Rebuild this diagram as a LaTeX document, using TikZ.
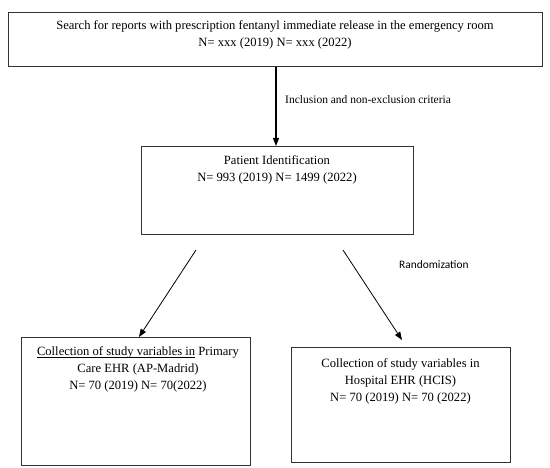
\documentclass[tikz,border=0pt]{standalone}
\usepackage{fontspec}
\setmainfont{Liberation Serif}
\newfontfamily\calib{Carlito}
\usetikzlibrary{arrows.meta}
\newcommand\myul[1]{\setbox0\hbox{#1}\rlap{\raisebox{-2.6pt}{\rule{\wd0}{0.6pt}}}\box0\relax}
\begin{document}
\begin{tikzpicture}[x=1pt,y=-1pt,
  box/.style={draw=black!80, line width=1pt, inner sep=0pt, anchor=north west},
  txt/.style={align=center, font=\fontsize{12.6}{17}\selectfont, inner sep=0pt, anchor=north},
  arr/.style={-{Triangle[length=8pt,width=6pt]}, line width=0.8pt}]
\useasboundingbox (0,0) rectangle (550,468);
\fill[white] (0,0) rectangle (550,468);
% boxes
\node[box, minimum width=534pt, minimum height=54pt] (top) at (8,12) {};
\node[box, minimum width=272pt, minimum height=88pt] (mid) at (141,146) {};
\node[box, minimum width=229pt, minimum height=128pt] (bl) at (21,337) {};
\node[box, minimum width=219pt, minimum height=115pt] (br) at (291,347) {};
% texts
\node[txt] (toptxt) at (275,20.5) {Search for reports with prescription fentanyl immediate release in the emergency room\\N= xxx (2019) N= xxx (2022)};
\node[txt] (midtxt) at (277,155.5) {Patient Identification\\N= 993 (2019) N= 1499 (2022)};
\node[txt] (bltxt) at (138,346) {\myul{Collection of study variables in} Primary\\Care EHR (AP-Madrid)\\N= 70 (2019) N= 70(2022)};
\node[txt] (brtxt) at (400.5,358.5) {Collection of study variables in\\Hospital EHR (HCIS)\\N= 70 (2019) N= 70 (2022)};
% connectors
\draw[arr, line width=1.3pt] (top.south -| 276,0) -- (mid.north -| 276,0);
\node[anchor=west, font=\fontsize{11.5}{12}\selectfont, inner sep=0pt] (inc) at (285,100) {Inclusion and non-exclusion criteria};
\coordinate (l0) at (196,250);
\coordinate (l1) at (139,337);
\coordinate (r0) at (343,250);
\coordinate (r1) at (402,340);
\draw[arr] (l0) -- (l1);
\draw[arr] (r0) -- (r1);
\node[anchor=west, font=\calib\fontsize{11.4}{12}\selectfont, inner sep=0pt] (rand) at (399,265) {Randomization};
\end{tikzpicture}
\end{document}
